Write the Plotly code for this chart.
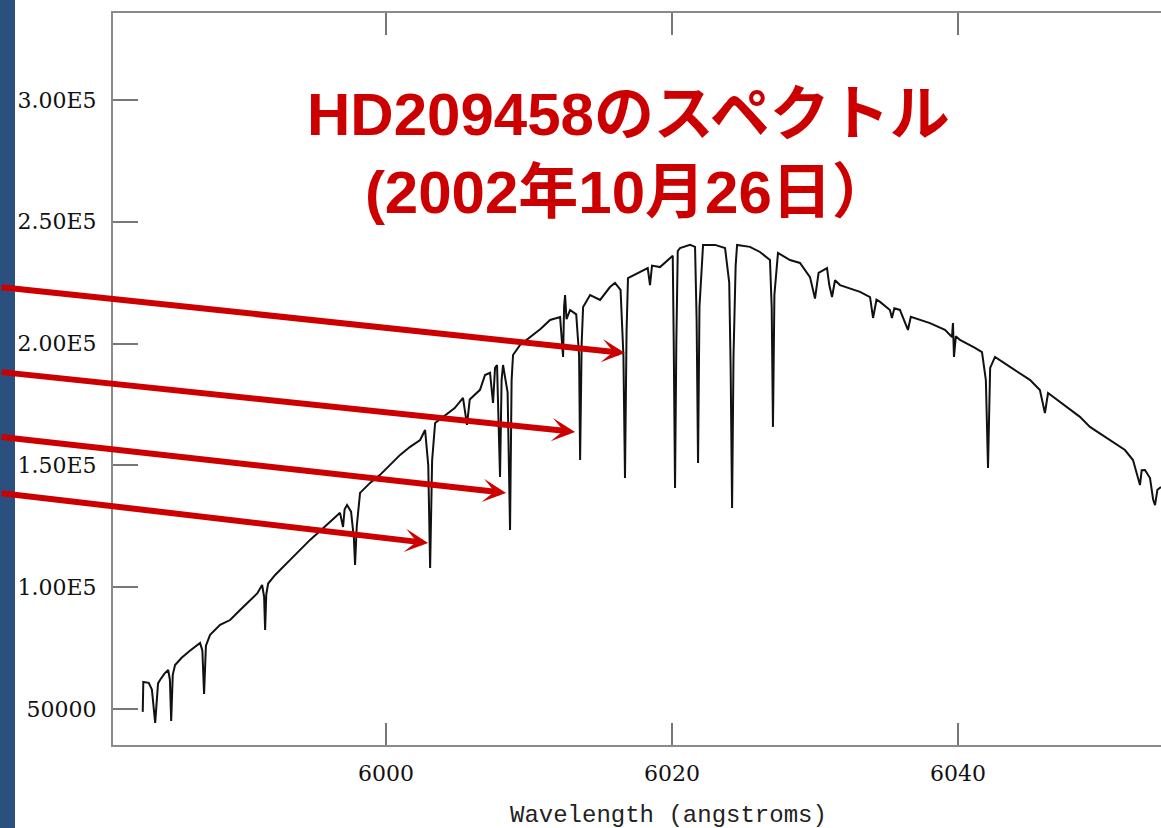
import plotly.graph_objects as go

# Spectrum of HD209458: wavelength (angstroms) and flux (counts)
wavelength = [
    5982.98, 5983.02, 5983.40, 5983.62, 5983.85, 5984.05, 5984.20, 5984.50, 5984.76, 5984.88,
    5984.97, 5985.08, 5985.24, 5985.70, 5986.30, 5986.99, 5987.15, 5987.27, 5987.40, 5987.69,
    5988.39, 5989.09, 5989.79, 5990.49, 5991.00, 5991.33, 5991.47, 5991.54, 5991.62, 5991.75,
    5992.24, 5993.29, 5993.99, 5994.70, 5995.38, 5996.10, 5996.78, 5996.99, 5997.10, 5997.27,
    5997.55, 5997.75, 5997.83, 5997.95, 5998.18, 5998.88, 5999.58, 6000.28, 6000.98, 6001.68,
    6002.38, 6002.73, 6002.95, 6003.08, 6003.22, 6003.43, 6004.13, 6004.80, 6005.38, 6005.66,
    6005.85, 6006.57, 6006.92, 6007.27, 6007.48, 6007.62, 6007.76, 6007.97, 6008.08, 6008.18,
    6008.50, 6008.67, 6008.78, 6008.88, 6009.37, 6010.07, 6010.80, 6011.47, 6012.17, 6012.38,
    6012.45, 6012.52, 6012.62, 6012.87, 6013.30, 6013.50, 6013.57, 6013.68, 6013.78, 6014.27,
    6014.97, 6015.66, 6016.01, 6016.40, 6016.60, 6016.71, 6016.82, 6016.92, 6017.76, 6018.30,
    6018.46, 6018.60, 6019.16, 6019.86, 6020.05, 6020.12, 6020.21, 6020.30, 6020.40, 6020.56,
    6021.26, 6021.61, 6021.72, 6021.82, 6021.92, 6022.17, 6023.01, 6023.71, 6024.00, 6024.10,
    6024.20, 6024.30, 6024.45, 6024.55, 6025.45, 6026.15, 6026.85, 6026.97, 6027.06, 6027.16,
    6027.41, 6028.25, 6028.95, 6029.65, 6030.00, 6030.25, 6030.84, 6031.00, 6031.19, 6031.40,
    6031.75, 6033.15, 6033.85, 6034.06, 6034.30, 6034.55, 6035.24, 6035.38, 6035.55, 6035.94,
    6036.50, 6036.70, 6036.99, 6038.04, 6039.09, 6039.58, 6039.65, 6039.72, 6039.85, 6040.14,
    6041.19, 6041.68, 6041.95, 6042.10, 6042.25, 6042.59, 6043.64, 6045.03, 6045.73, 6046.08,
    6046.30, 6047.13, 6048.53, 6049.23, 6050.63, 6051.68, 6052.24, 6052.55, 6052.73, 6052.85,
    6053.08, 6053.43, 6053.65, 6053.78, 6053.95, 6054.20,
]
flux = [
    48800, 61100, 60700, 58000, 44300, 60500, 62000, 64500, 66000, 62000,
    45100, 64000, 68000, 71000, 74000, 77100, 74000, 56200, 76000, 80400,
    84500, 86500, 90600, 94700, 97500, 100900, 96000, 82400, 97000, 101500,
    105000, 111200, 115300, 119500, 123000, 127000, 130500, 124700, 132000, 133700,
    131000, 120000, 109100, 125000, 138700, 142800, 146100, 150200, 154300, 157600,
    160400, 164500, 150000, 107900, 152000, 167400, 170700, 173500, 177700, 166600,
    177000, 181000, 187100, 188000, 175600, 190000, 191200, 145200, 185000, 191200,
    180000, 123500, 185000, 195300, 199400, 202700, 206000, 209700, 210900, 194500,
    215000, 219900, 210000, 213800, 212000, 195000, 152200, 200000, 215000, 219900,
    217900, 223200, 224900, 222000, 195000, 144800, 205000, 226900, 229400, 231000,
    224000, 232000, 231400, 235100, 236000, 200000, 140700, 200000, 238000, 239200,
    240500, 239700, 210000, 151000, 215000, 240500, 240500, 239200, 225000, 190000,
    132500, 195000, 232000, 240500, 239700, 237600, 234300, 215000, 165800, 220000,
    237200, 234300, 233100, 227300, 218500, 229000, 231000, 224000, 219100, 226000,
    224000, 221200, 219100, 210500, 218000, 217100, 213800, 210500, 214500, 213800,
    205600, 211000, 210500, 208400, 205600, 202700, 208400, 194500, 203000, 201500,
    198200, 196500, 185000, 148900, 190000, 194500, 190400, 185100, 180950, 171500,
    179700, 176000, 169900, 165800, 160400, 156300, 152200, 145000, 141900, 148000,
    148100, 144800, 136000, 133700, 140000, 141100,
]

# Axis ticks
x_ticks = [6000, 6020, 6040]
y_ticks = [50000, 100000, 150000, 200000, 250000, 300000]
y_tick_text = ["50000", "1.00E5", "1.50E5", "2.00E5", "2.50E5", "3.00E5"]

# Absorption lines pointed at by the arrows (wavelength, flux at arrow tip)
arrow_wl = [6016.71, 6013.22, 6008.39, 6002.94]
arrow_flux = [196100, 163700, 138700, 118100]
arrow_dx = [-625, -575, -506, -428]
arrow_dy = [-66, -60, -56, -50]

title_lines = ["HD209458のスペクトル", "(2002年10月26日）"]
x_title = "Wavelength (angstroms)"

W, H = 1161, 828
ML, MR, MT, MB = 113, 0, 13, 83
PW, PH = W - ML - MR, H - MT - MB

fig = go.Figure()
fig.add_trace(go.Scatter(
    x=wavelength, y=flux, mode="lines",
    line=dict(color="#111111", width=2),
    hoverinfo="skip", showlegend=False,
))

axis_color = "#8a8a8a"
tick_font = dict(family="DejaVu Serif", size=22, color="#111111")

fig.update_xaxes(
    range=[5980.9, 6054.2], tickvals=x_ticks, ticktext=[str(v) for v in x_ticks],
    showline=True, linecolor=axis_color, linewidth=2, mirror="ticks",
    ticks="inside", ticklen=22, tickwidth=2, tickcolor="#777777",
    showgrid=False, zeroline=False, tickfont=tick_font, ticklabelstandoff=8,
)
fig.update_yaxes(
    range=[35200, 335700], tickvals=y_ticks, ticktext=y_tick_text,
    showline=True, linecolor=axis_color, linewidth=2,
    ticks="inside", ticklen=25, tickwidth=2, tickcolor="#777777",
    showgrid=False, zeroline=False, tickfont=tick_font, ticklabelstandoff=10,
)

# Dark blue band at the left edge of the slide
fig.add_shape(
    type="rect", xref="paper", yref="paper",
    x0=-ML / PW, x1=-(ML - 15) / PW, y0=-MB / PH - 0.01, y1=1 + MT / PH + 0.01,
    fillcolor="#2b5080", line=dict(width=0),
)

annotations = []
for wl, fl, dx, dy in zip(arrow_wl, arrow_flux, arrow_dx, arrow_dy):
    annotations.append(dict(
        x=wl, y=fl, xref="x", yref="y", ax=dx, ay=dy,
        text="", showarrow=True, arrowhead=3, arrowsize=0.65,
        arrowwidth=6, arrowcolor="#cc0000", standoff=0,
    ))

annotations.append(dict(
    x=(628 - ML) / PW, y=1 - (153 - MT) / PH, xref="paper", yref="paper",
    xanchor="center", yanchor="middle", showarrow=False,
    text="<br>".join(title_lines), align="center",
    font=dict(family="Liberation Sans, Noto Sans CJK JP", size=60, color="#cc0000",
              weight="bold"),
))
annotations.append(dict(
    x=(668 - ML) / PW, y=-(815 - (H - MB)) / PH, xref="paper", yref="paper",
    xanchor="center", yanchor="middle", showarrow=False, text=x_title,
    font=dict(family="Liberation Mono", size=24, color="#222222"),
))

fig.update_layout(
    width=W, height=H,
    margin=dict(l=ML, r=MR, t=MT, b=MB, pad=0),
    paper_bgcolor="white", plot_bgcolor="white",
    annotations=annotations, showlegend=False,
)

fig.write_html("out.html")
